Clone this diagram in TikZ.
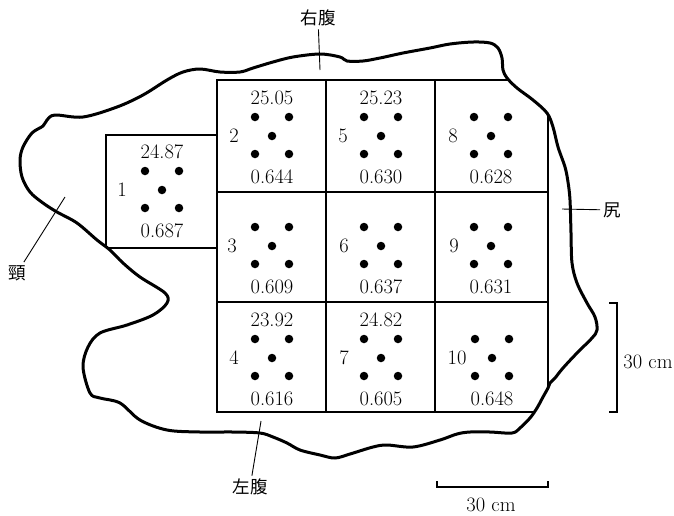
\documentclass[tikz,border=0pt]{standalone}
\usepackage{fontspec}
\newfontfamily\cjk{Noto Sans CJK JP}
\begin{document}
\begin{tikzpicture}[x=1pt,y=-1pt,
  body/.style={line width=3pt, line join=round},
  gridline/.style={line width=1.2pt},
  leader/.style={line width=0.9pt},
  scalebar/.style={line width=1.2pt},
  val/.style={font=\fontsize{20.5}{24}\selectfont, inner sep=0pt},
  plotno/.style={font=\fontsize{20.5}{24}\selectfont, inner sep=0pt},
  part/.style={font=\cjk\fontsize{17.5}{20}\selectfont, inner sep=3pt},
  spot/.style={circle, fill, inner sep=0pt, minimum size=8.5pt},
]
\useasboundingbox (0,0) rectangle (674,515);

% hide outline
\def\bodyoutline{plot[smooth cycle, tension=0.55] coordinates {
  (55,115) (83,117) (117,107) (143,95) (167,80) (183,72) (200,69) (220,72)
  (240,72) (253,68) (273,62) (293,57) (320,54) (340,57) (347,61) (363,61)
  (380,58) (403,53) (430,48) (450,44) (473,42) (490,43) (498,48) (502,58)
  (503,70) (507,78) (517,88) (533,100) (547,113) (553,127) (558,147)
  (565,167) (568,182) (570,200) (571,233) (572,263) (577,283) (587,303)
  (595,317) (597,330) (592,338) (577,353) (563,368) (555,378) (550,383)
  (548,388) (543,397) (537,408) (530,418) (520,428) (512,433) (490,432)
  (470,432) (457,434) (440,440) (413,447) (387,445) (373,447) (350,454)
  (335,458) (320,455) (300,450) (287,443) (273,437) (260,433) (233,432)
  (200,432) (167,430) (140,420) (120,403) (100,398) (90,393) (83,367)
  (88,347) (100,333) (127,325) (153,315) (167,303) (165,293) (140,277)
  (123,263) (110,250) (97,240) (77,223) (57,212) (43,203) (30,192)
  (22,177) (20,160) (23,147) (32,133) (43,126) (47,120)}}

% sampling plots, cut off where they run past the outline
\begin{scope}
  \clip \bodyoutline;
  \draw[gridline] (106,135) rectangle (217,248);
  \draw[gridline] (217,80) rectangle (548,412);
  \draw[gridline] (326,80) -- (326,412) (435,80) -- (435,412)
                  (217,192) -- (548,192) (217,302) -- (548,302);
\end{scope}
\draw[body] \bodyoutline;

% five sampling spots, plot number and value in each plot
\foreach \id/\cx/\cy/\lx/\bot in {
  1/162/190/122/0.687,
  2/272/136/234/0.644,
  3/272/246/232/0.609,
  4/272/358/234/0.616,
  5/381/136/343/0.630,
  6/381/246/344/0.637,
  7/381/358/344/0.605,
  8/491/136/453/0.628,
  9/491/246/454/0.631,
  10/492/358/457/0.648}
{
  \node[spot] (s\id-c) at (\cx,\cy) {};
  \node[spot] (s\id-a) at ({\cx-17},{\cy-19}) {};
  \node[spot] (s\id-b) at ({\cx+17},{\cy-19}) {};
  \node[spot] (s\id-d) at ({\cx-17},{\cy+18}) {};
  \node[spot] (s\id-e) at ({\cx+17},{\cy+18}) {};
  \node[plotno] (no\id) at (\lx,\cy) {\id};
  \node[val] (lo\id) at (\cx,{\cy+41}) {\bot};
}
\foreach \id/\cx/\cy/\v in {
  1/162/190/24.87,
  2/272/136/25.05,
  5/381/136/25.23,
  4/272/358/23.92,
  7/381/358/24.82}
{
  \node[val] (hi\id) at (\cx,{\cy-38}) {\v};
}

% body part labels
\node[part] (rbelly) at (318,18) {右腹};
\node[part] (neck) at (17,273) {頸};
\node[part] (rump) at (612,210) {尻};
\node[part] (lbelly) at (250,487) {左腹};
\coordinate (rbellyend) at (320,70);
\coordinate (neckend) at (65,197);
\coordinate (rumpend) at (562,209);
\coordinate (lbellyend) at (261,421);
\draw[leader] (rbellyend) -- (rbelly);
\draw[leader] (neckend) -- (neck);
\draw[leader] (rumpend) -- (rump);
\draw[leader] (lbellyend) -- (lbelly);

% scale bars
\coordinate (vs1) at (609,303);
\coordinate (vs2) at (617,303);
\coordinate (vs3) at (617,412);
\coordinate (vs4) at (609,412);
\draw[scalebar] (vs1) -- (vs2) -- (vs3) -- (vs4);
\node[val] (vslabel) at (648,362) {30 cm};
\coordinate (hs1) at (437,481);
\coordinate (hs2) at (437,487);
\coordinate (hs3) at (548,487);
\coordinate (hs4) at (548,481);
\draw[scalebar] (hs1) -- (hs2) -- (hs3) -- (hs4);
\node[val] (hslabel) at (491,505) {30 cm};
\end{tikzpicture}
\end{document}
